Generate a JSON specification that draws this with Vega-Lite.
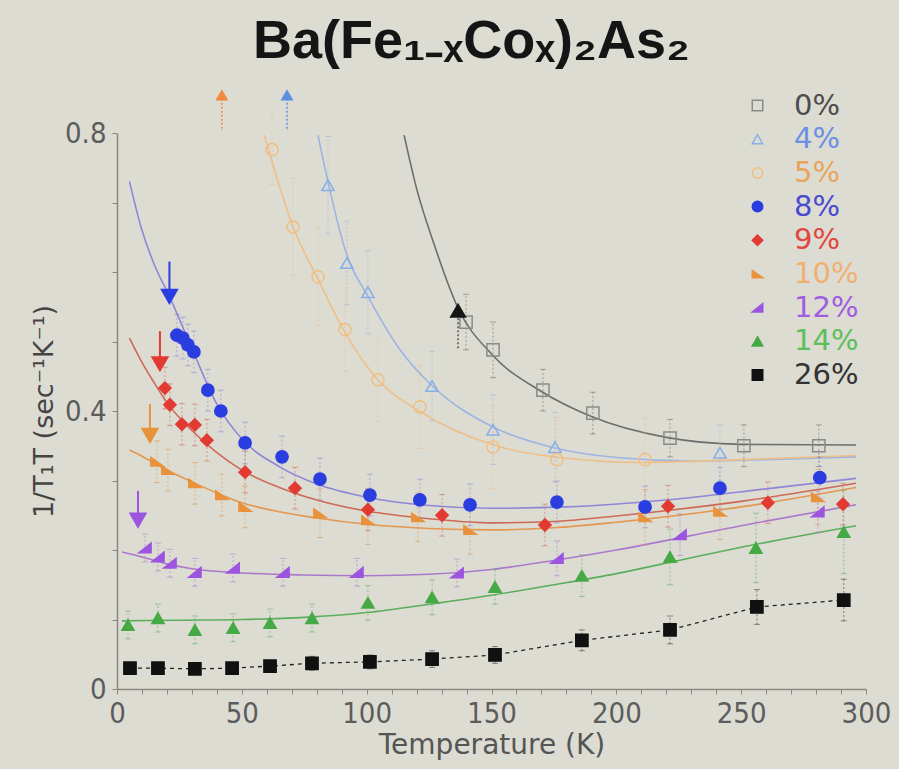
{
  "$schema": "https://vega.github.io/schema/vega-lite/v6.json",
  "width": 749,
  "height": 556,
  "autosize": {"type": "none"},
  "padding": {"left": 117, "top": 133, "right": 33, "bottom": 80},
  "background": "#dddcd2",
  "config": {"view": {"stroke": null}, "font": "DejaVu Sans"},
  "title": {
    "text": "Ba(Fe₁₋ₓCoₓ)₂As₂",
    "font": "Liberation Sans",
    "fontSize": 54,
    "fontWeight": "bold",
    "color": "#151515",
    "anchor": "middle",
    "frame": "group",
    "baseline": "alphabetic",
    "offset": -23,
    "dx": -20
  },
  "datasets": {
    "pts": [
      {"s": "0%", "t": 139.8, "v": 0.528, "e": 0.04},
      {"s": "0%", "t": 150.6, "v": 0.488, "e": 0.04},
      {"s": "0%", "t": 170.6, "v": 0.43, "e": 0.03},
      {"s": "0%", "t": 190.6, "v": 0.397, "e": 0.03},
      {"s": "0%", "t": 221.5, "v": 0.361, "e": 0.027},
      {"s": "0%", "t": 251.1, "v": 0.35, "e": 0.03},
      {"s": "0%", "t": 281.1, "v": 0.35, "e": 0.03},
      {"s": "4%", "t": 84.5, "v": 0.725, "e": 0.07},
      {"s": "4%", "t": 92.1, "v": 0.613, "e": 0.06},
      {"s": "4%", "t": 100.5, "v": 0.571, "e": 0.06},
      {"s": "4%", "t": 126.2, "v": 0.436, "e": 0.05},
      {"s": "4%", "t": 150.6, "v": 0.373, "e": 0.05},
      {"s": "4%", "t": 175.4, "v": 0.348, "e": 0.05},
      {"s": "4%", "t": 241.5, "v": 0.34, "e": 0.04},
      {"s": "5%", "t": 62.1, "v": 0.776, "e": 0.05},
      {"s": "5%", "t": 70.5, "v": 0.665, "e": 0.07},
      {"s": "5%", "t": 80.5, "v": 0.593, "e": 0.07},
      {"s": "5%", "t": 91.3, "v": 0.517, "e": 0.06},
      {"s": "5%", "t": 104.5, "v": 0.445, "e": 0.06},
      {"s": "5%", "t": 121.3, "v": 0.406, "e": 0.06},
      {"s": "5%", "t": 150.6, "v": 0.348, "e": 0.06},
      {"s": "5%", "t": 176.2, "v": 0.33, "e": 0.06},
      {"s": "5%", "t": 211.5, "v": 0.33, "e": 0.06},
      {"s": "8%", "t": 24.0, "v": 0.509, "e": 0.03},
      {"s": "8%", "t": 26.4, "v": 0.505, "e": 0.03},
      {"s": "8%", "t": 28.4, "v": 0.495, "e": 0.03},
      {"s": "8%", "t": 30.8, "v": 0.485, "e": 0.03},
      {"s": "8%", "t": 36.4, "v": 0.43, "e": 0.03},
      {"s": "8%", "t": 41.6, "v": 0.4, "e": 0.03},
      {"s": "8%", "t": 51.3, "v": 0.354, "e": 0.03},
      {"s": "8%", "t": 66.1, "v": 0.334, "e": 0.03},
      {"s": "8%", "t": 81.3, "v": 0.302, "e": 0.03},
      {"s": "8%", "t": 101.3, "v": 0.279, "e": 0.03},
      {"s": "8%", "t": 121.3, "v": 0.272, "e": 0.03},
      {"s": "8%", "t": 141.4, "v": 0.265, "e": 0.03},
      {"s": "8%", "t": 176.2, "v": 0.269, "e": 0.03},
      {"s": "8%", "t": 211.5, "v": 0.262, "e": 0.03},
      {"s": "8%", "t": 241.5, "v": 0.289, "e": 0.03},
      {"s": "8%", "t": 281.5, "v": 0.304, "e": 0.03},
      {"s": "9%", "t": 19.2, "v": 0.433, "e": 0.03},
      {"s": "9%", "t": 21.2, "v": 0.409, "e": 0.03},
      {"s": "9%", "t": 26.0, "v": 0.381, "e": 0.03},
      {"s": "9%", "t": 31.2, "v": 0.38, "e": 0.03},
      {"s": "9%", "t": 36.0, "v": 0.358, "e": 0.03},
      {"s": "9%", "t": 51.3, "v": 0.312, "e": 0.03},
      {"s": "9%", "t": 71.3, "v": 0.289, "e": 0.03},
      {"s": "9%", "t": 100.5, "v": 0.258, "e": 0.03},
      {"s": "9%", "t": 130.2, "v": 0.25, "e": 0.03},
      {"s": "9%", "t": 171.4, "v": 0.236, "e": 0.03},
      {"s": "9%", "t": 220.7, "v": 0.263, "e": 0.03},
      {"s": "9%", "t": 260.7, "v": 0.268, "e": 0.03},
      {"s": "9%", "t": 290.8, "v": 0.266, "e": 0.03},
      {"s": "10%", "t": 16.0, "v": 0.327, "e": 0.03},
      {"s": "10%", "t": 20.4, "v": 0.315, "e": 0.03},
      {"s": "10%", "t": 31.2, "v": 0.296, "e": 0.03},
      {"s": "10%", "t": 42.0, "v": 0.279, "e": 0.03},
      {"s": "10%", "t": 51.3, "v": 0.262, "e": 0.03},
      {"s": "10%", "t": 81.3, "v": 0.253, "e": 0.035},
      {"s": "10%", "t": 100.5, "v": 0.243, "e": 0.035},
      {"s": "10%", "t": 120.5, "v": 0.247, "e": 0.035},
      {"s": "10%", "t": 141.4, "v": 0.229, "e": 0.035},
      {"s": "10%", "t": 211.5, "v": 0.247, "e": 0.04},
      {"s": "10%", "t": 241.5, "v": 0.255, "e": 0.04},
      {"s": "10%", "t": 280.7, "v": 0.276, "e": 0.04},
      {"s": "12%", "t": 11.2, "v": 0.203, "e": 0.02},
      {"s": "12%", "t": 16.4, "v": 0.19, "e": 0.02},
      {"s": "12%", "t": 21.2, "v": 0.181, "e": 0.02},
      {"s": "12%", "t": 31.2, "v": 0.168, "e": 0.02},
      {"s": "12%", "t": 46.5, "v": 0.174, "e": 0.02},
      {"s": "12%", "t": 66.5, "v": 0.168, "e": 0.02},
      {"s": "12%", "t": 96.1, "v": 0.168, "e": 0.02},
      {"s": "12%", "t": 136.2, "v": 0.167, "e": 0.02},
      {"s": "12%", "t": 176.2, "v": 0.188, "e": 0.025},
      {"s": "12%", "t": 225.5, "v": 0.222, "e": 0.03},
      {"s": "12%", "t": 280.7, "v": 0.255, "e": 0.03},
      {"s": "14%", "t": 4.4, "v": 0.092, "e": 0.02},
      {"s": "14%", "t": 16.4, "v": 0.102, "e": 0.02},
      {"s": "14%", "t": 31.2, "v": 0.085, "e": 0.02},
      {"s": "14%", "t": 46.5, "v": 0.088, "e": 0.02},
      {"s": "14%", "t": 61.3, "v": 0.095, "e": 0.02},
      {"s": "14%", "t": 78.1, "v": 0.102, "e": 0.02},
      {"s": "14%", "t": 100.5, "v": 0.124, "e": 0.025},
      {"s": "14%", "t": 126.2, "v": 0.132, "e": 0.025},
      {"s": "14%", "t": 151.4, "v": 0.147, "e": 0.025},
      {"s": "14%", "t": 186.2, "v": 0.163, "e": 0.03},
      {"s": "14%", "t": 221.5, "v": 0.19, "e": 0.04},
      {"s": "14%", "t": 255.9, "v": 0.203, "e": 0.05},
      {"s": "14%", "t": 291.1, "v": 0.226, "e": 0.06},
      {"s": "26%", "t": 5.2, "v": 0.03, "e": 0.008},
      {"s": "26%", "t": 16.4, "v": 0.03, "e": 0.008},
      {"s": "26%", "t": 31.2, "v": 0.029, "e": 0.008},
      {"s": "26%", "t": 46.1, "v": 0.03, "e": 0.008},
      {"s": "26%", "t": 61.3, "v": 0.033, "e": 0.008},
      {"s": "26%", "t": 78.1, "v": 0.037, "e": 0.01},
      {"s": "26%", "t": 101.3, "v": 0.039, "e": 0.01},
      {"s": "26%", "t": 126.2, "v": 0.043, "e": 0.012},
      {"s": "26%", "t": 151.4, "v": 0.049, "e": 0.012},
      {"s": "26%", "t": 186.2, "v": 0.07, "e": 0.015},
      {"s": "26%", "t": 221.5, "v": 0.085, "e": 0.02},
      {"s": "26%", "t": 256.3, "v": 0.118, "e": 0.025},
      {"s": "26%", "t": 291.1, "v": 0.128, "e": 0.03}
    ],
    "fit": [
      {"s": "0%", "t": 115, "v": 0.797},
      {"s": "0%", "t": 120, "v": 0.72},
      {"s": "0%", "t": 127, "v": 0.64},
      {"s": "0%", "t": 136.6, "v": 0.548},
      {"s": "0%", "t": 150, "v": 0.482},
      {"s": "0%", "t": 170, "v": 0.428},
      {"s": "0%", "t": 190, "v": 0.392},
      {"s": "0%", "t": 220, "v": 0.362},
      {"s": "0%", "t": 250, "v": 0.352},
      {"s": "0%", "t": 296, "v": 0.351},
      {"s": "4%", "t": 80.5, "v": 0.797},
      {"s": "4%", "t": 84.5, "v": 0.73},
      {"s": "4%", "t": 92, "v": 0.625},
      {"s": "4%", "t": 100.5, "v": 0.565},
      {"s": "4%", "t": 113, "v": 0.49},
      {"s": "4%", "t": 126, "v": 0.437},
      {"s": "4%", "t": 150, "v": 0.378},
      {"s": "4%", "t": 175, "v": 0.347},
      {"s": "4%", "t": 200, "v": 0.333},
      {"s": "4%", "t": 230, "v": 0.328},
      {"s": "4%", "t": 260, "v": 0.33},
      {"s": "4%", "t": 296, "v": 0.334},
      {"s": "5%", "t": 59, "v": 0.797},
      {"s": "5%", "t": 62, "v": 0.76},
      {"s": "5%", "t": 70.5, "v": 0.665},
      {"s": "5%", "t": 80.5, "v": 0.59},
      {"s": "5%", "t": 91, "v": 0.515},
      {"s": "5%", "t": 104.5, "v": 0.445},
      {"s": "5%", "t": 121, "v": 0.4},
      {"s": "5%", "t": 150, "v": 0.352},
      {"s": "5%", "t": 180, "v": 0.332},
      {"s": "5%", "t": 210, "v": 0.326},
      {"s": "5%", "t": 250, "v": 0.33},
      {"s": "5%", "t": 296, "v": 0.336},
      {"s": "8%", "t": 5, "v": 0.73},
      {"s": "8%", "t": 10, "v": 0.66},
      {"s": "8%", "t": 15, "v": 0.61},
      {"s": "8%", "t": 21, "v": 0.565},
      {"s": "8%", "t": 30, "v": 0.49},
      {"s": "8%", "t": 40, "v": 0.41},
      {"s": "8%", "t": 50, "v": 0.36},
      {"s": "8%", "t": 65, "v": 0.32},
      {"s": "8%", "t": 80, "v": 0.295},
      {"s": "8%", "t": 100, "v": 0.276},
      {"s": "8%", "t": 125, "v": 0.264},
      {"s": "8%", "t": 150, "v": 0.26},
      {"s": "8%", "t": 180, "v": 0.262},
      {"s": "8%", "t": 220, "v": 0.272},
      {"s": "8%", "t": 260, "v": 0.288},
      {"s": "8%", "t": 296, "v": 0.303},
      {"s": "9%", "t": 5, "v": 0.505},
      {"s": "9%", "t": 10, "v": 0.47},
      {"s": "9%", "t": 15, "v": 0.44},
      {"s": "9%", "t": 20, "v": 0.412},
      {"s": "9%", "t": 30, "v": 0.372},
      {"s": "9%", "t": 40, "v": 0.34},
      {"s": "9%", "t": 50, "v": 0.315},
      {"s": "9%", "t": 65, "v": 0.29},
      {"s": "9%", "t": 80, "v": 0.272},
      {"s": "9%", "t": 100, "v": 0.256},
      {"s": "9%", "t": 125, "v": 0.245},
      {"s": "9%", "t": 150, "v": 0.239},
      {"s": "9%", "t": 175, "v": 0.241},
      {"s": "9%", "t": 200, "v": 0.249},
      {"s": "9%", "t": 250, "v": 0.27},
      {"s": "9%", "t": 296, "v": 0.296},
      {"s": "10%", "t": 5, "v": 0.344},
      {"s": "10%", "t": 10, "v": 0.335},
      {"s": "10%", "t": 15, "v": 0.325},
      {"s": "10%", "t": 20, "v": 0.315},
      {"s": "10%", "t": 30, "v": 0.298},
      {"s": "10%", "t": 40, "v": 0.282},
      {"s": "10%", "t": 50, "v": 0.268},
      {"s": "10%", "t": 65, "v": 0.255},
      {"s": "10%", "t": 80, "v": 0.246},
      {"s": "10%", "t": 100, "v": 0.237},
      {"s": "10%", "t": 125, "v": 0.231},
      {"s": "10%", "t": 150, "v": 0.229},
      {"s": "10%", "t": 175, "v": 0.232},
      {"s": "10%", "t": 200, "v": 0.24},
      {"s": "10%", "t": 250, "v": 0.262},
      {"s": "10%", "t": 296, "v": 0.29},
      {"s": "12%", "t": 2, "v": 0.197},
      {"s": "12%", "t": 10, "v": 0.19},
      {"s": "12%", "t": 20, "v": 0.18},
      {"s": "12%", "t": 30, "v": 0.173},
      {"s": "12%", "t": 50, "v": 0.167},
      {"s": "12%", "t": 75, "v": 0.164},
      {"s": "12%", "t": 100, "v": 0.163},
      {"s": "12%", "t": 125, "v": 0.165},
      {"s": "12%", "t": 150, "v": 0.172},
      {"s": "12%", "t": 175, "v": 0.185},
      {"s": "12%", "t": 200, "v": 0.2},
      {"s": "12%", "t": 250, "v": 0.235},
      {"s": "12%", "t": 296, "v": 0.265},
      {"s": "14%", "t": 2, "v": 0.098},
      {"s": "14%", "t": 25, "v": 0.099},
      {"s": "14%", "t": 50, "v": 0.1},
      {"s": "14%", "t": 75, "v": 0.103},
      {"s": "14%", "t": 100, "v": 0.11},
      {"s": "14%", "t": 125, "v": 0.122},
      {"s": "14%", "t": 150, "v": 0.135},
      {"s": "14%", "t": 175, "v": 0.15},
      {"s": "14%", "t": 200, "v": 0.166},
      {"s": "14%", "t": 225, "v": 0.185},
      {"s": "14%", "t": 250, "v": 0.204},
      {"s": "14%", "t": 296, "v": 0.235}
    ],
    "tc": [
      {"s": "8%", "t": 21.0, "v": 0.565, "v2": 0.615},
      {"s": "9%", "t": 17.2, "v": 0.468, "v2": 0.515},
      {"s": "10%", "t": 13.2, "v": 0.365, "v2": 0.41},
      {"s": "12%", "t": 8.4, "v": 0.243, "v2": 0.285}
    ],
    "up": [
      {"s": "5%", "t": 42.0, "v": 0.855, "v2": 0.803},
      {"s": "4%", "t": 68.1, "v": 0.855, "v2": 0.803}
    ],
    "sdw": [
      {"t": 136.6, "v": 0.545, "v2": 0.49}
    ],
    "one": [{}]
  },
  "encoding": {
    "x": {
      "field": "t", "type": "quantitative",
      "scale": {"domain": [0, 300], "nice": false, "zero": false},
      "axis": {"title": "Temperature (K)", "values": [0,10,20,30,40,50,60,70,80,90,100,110,120,130,140,150,160,170,180,190,200,210,220,230,240,250,260,270,280,290,300], "labelExpr": "datum.value % 50 === 0 ? datum.label : ''", "labelOverlap": false, "labelFlush": false, "grid": false, "domainColor": "#8c8682", "domainWidth": 1.5, "tickColor": "#8c8682", "tickSize": 5, "labelFont": "DejaVu Sans Condensed, DejaVu Sans", "labelFontSize": 29, "labelColor": "#5c5c5c", "labelPadding": 5, "titleFont": "DejaVu Sans", "titleFontSize": 28, "titleFontWeight": "normal", "titleColor": "#555555", "titlePadding": 3}
    },
    "y": {
      "field": "v", "type": "quantitative",
      "scale": {"domain": [0, 0.8], "nice": false, "zero": false},
      "axis": {"title": "1/T₁T (sec⁻¹K⁻¹)", "values": [0, 0.1, 0.2, 0.3, 0.4, 0.5, 0.6, 0.7, 0.8], "labelExpr": "datum.value < 0.001 ? '0' : (abs(datum.value - 0.4) < 0.001 || abs(datum.value - 0.8) < 0.001) ? format(datum.value, '.1f') : ''", "labelOverlap": false, "labelFlush": false, "grid": false, "domainColor": "#8c8682", "domainWidth": 1.5, "tickColor": "#8c8682", "tickSize": 5, "labelFont": "DejaVu Sans Condensed, DejaVu Sans", "labelFontSize": 29, "labelColor": "#5c5c5c", "labelPadding": 6, "titleFont": "DejaVu Sans", "titleFontSize": 27, "titleFontWeight": "normal", "titleColor": "#444444", "titlePadding": 6}
    }
  },
  "layer": [
    {
      "data": {"name": "fit"},
      "mark": {"type": "line", "interpolate": "monotone", "strokeWidth": 1.6},
      "encoding": {
        "color": {
          "field": "s", "type": "nominal", "legend": null,
          "scale": {
            "domain": ["26%", "0%", "4%", "5%", "8%", "9%", "10%", "12%", "14%"],
            "range": ["#333333", "#6e6e6e", "#9db4e2", "#eebf88", "#8f86d8", "#cc6a55", "#e3974f", "#ab78cc", "#5cae5c"]
          }
        },
        "detail": {"field": "s"}
      }
    },
    {
      "data": {"name": "pts"},
      "transform": [{"filter": "datum.s === '26%'"}],
      "mark": {"type": "line", "strokeDash": [4, 4], "strokeWidth": 1.3, "color": "#222222"}
    },
    {
      "data": {"name": "pts"},
      "mark": {"type": "errorbar", "ticks": {"size": 6, "opacity": 0.55}, "rule": {"strokeDash": [2, 2], "opacity": 0.6, "strokeWidth": 1}},
      "encoding": {
        "yError": {"field": "e"},
        "color": {"field": "s", "type": "nominal", "legend": null}
      }
    },
    {
      "data": {"name": "pts"},
      "mark": {"type": "point", "strokeWidth": 1.5, "opacity": 1, "size": 150},
      "encoding": {
        "fill": {
          "field": "s", "type": "nominal",
          "scale": {
            "domain": ["0%", "4%", "5%", "8%", "9%", "10%", "12%", "14%", "26%"],
            "range": ["transparent", "transparent", "transparent", "#2a3de0", "#e23a32", "#e8923c", "#9d55e0", "#45aa45", "#111111"]
          },
          "legend": {
            "title": null,
            "orient": "none",
            "legendX": 626,
            "legendY": -42,
            "labelFont": "DejaVu Sans",
            "labelFontSize": 29,
            "labelOffset": 22,
            "rowPadding": 3.7,
            "symbolSize": 110,
            "symbolStrokeWidth": 1.5,
            "symbolOpacity": 1,
            "encode": {
              "labels": {
                "update": {
                  "fill": {"signal": "datum.value === '0%' ? '#4d4d4d' : datum.value === '4%' ? '#6c8fe4' : datum.value === '5%' ? '#eaa35a' : datum.value === '8%' ? '#4a4ad0' : datum.value === '9%' ? '#e0483e' : datum.value === '10%' ? '#f0b070' : datum.value === '12%' ? '#a05ee0' : datum.value === '14%' ? '#5cbf5c' : '#333333'"}
                }
              }
            }
          }
        },
        "stroke": {
          "field": "s", "type": "nominal",
          "scale": {
            "domain": ["0%", "4%", "5%", "8%", "9%", "10%", "12%", "14%", "26%"],
            "range": ["#8a8a8a", "#86aee8", "#f0bf80", "#2a3de0", "#e23a32", "#e8923c", "#9d55e0", "#45aa45", "#111111"]
          }
        },
        "shape": {
          "field": "s", "type": "nominal",
          "scale": {
            "domain": ["0%", "4%", "5%", "8%", "9%", "10%", "12%", "14%", "26%"],
            "range": ["square", "triangle-up", "circle", "circle", "diamond", "M-1,-0.7L1,0.7L-1,0.7Z", "M1,-0.8L1,0.8L-1,0.8Z", "triangle-up", "square"]
          }
        }
      }
    },
    {
      "data": {"name": "tc"},
      "mark": {"type": "rule", "strokeWidth": 2, "opacity": 1},
      "encoding": {
        "y2": {"field": "v2"},
        "stroke": {"field": "s", "type": "nominal"}
      }
    },
    {
      "data": {"name": "tc"},
      "mark": {"type": "point", "shape": "triangle-down", "size": 230, "opacity": 1},
      "encoding": {
        "fill": {"field": "s", "type": "nominal"},
        "stroke": {"field": "s", "type": "nominal"}
      }
    },
    {
      "data": {"name": "up"},
      "transform": [{"filter": "datum.s === '5%'"}],
      "layer": [
        {"mark": {"type": "rule", "strokeDash": [2, 2], "strokeWidth": 1.5, "color": "#f08a40"}, "encoding": {"y2": {"field": "v2"}}},
        {"mark": {"type": "point", "shape": "triangle-up", "filled": true, "size": 170, "color": "#f08a40", "opacity": 1}}
      ]
    },
    {
      "data": {"name": "up"},
      "transform": [{"filter": "datum.s === '4%'"}],
      "layer": [
        {"mark": {"type": "rule", "strokeDash": [2, 2], "strokeWidth": 1.5, "color": "#5a90e0"}, "encoding": {"y2": {"field": "v2"}}},
        {"mark": {"type": "point", "shape": "triangle-up", "filled": true, "size": 170, "color": "#5a90e0", "opacity": 1}}
      ]
    },
    {
      "data": {"name": "sdw"},
      "layer": [
        {"mark": {"type": "rule", "strokeDash": [2, 2], "strokeWidth": 1.2, "color": "#333333"}, "encoding": {"y2": {"field": "v2"}}},
        {"mark": {"type": "point", "shape": "triangle-up", "filled": true, "size": 300, "color": "#151515", "opacity": 1}}
      ]
    },
    {
      "data": {"name": "one"},
      "mark": {"type": "text", "text": "T", "font": "DejaVu Sans", "fontSize": 30, "align": "left", "baseline": "alphabetic", "color": "#333333"},
      "encoding": {
        "x": {"datum": 132.6, "type": "quantitative", "axis": {"title": "Temperature (K)", "values": [0,10,20,30,40,50,60,70,80,90,100,110,120,130,140,150,160,170,180,190,200,210,220,230,240,250,260,270,280,290,300], "labelExpr": "datum.value % 50 === 0 ? datum.label : ''", "labelOverlap": false, "labelFlush": false, "grid": false, "domainColor": "#8c8682", "domainWidth": 1.5, "tickColor": "#8c8682", "tickSize": 5, "labelFont": "DejaVu Sans Condensed, DejaVu Sans", "labelFontSize": 29, "labelColor": "#5c5c5c", "labelPadding": 5, "titleFont": "DejaVu Sans", "titleFontSize": 28, "titleFontWeight": "normal", "titleColor": "#555555", "titlePadding": 3}},
        "y": {"datum": 0.586, "type": "quantitative", "axis": {"title": "1/T₁T (sec⁻¹K⁻¹)", "values": [0, 0.1, 0.2, 0.3, 0.4, 0.5, 0.6, 0.7, 0.8], "labelExpr": "datum.value < 0.001 ? '0' : (abs(datum.value - 0.4) < 0.001 || abs(datum.value - 0.8) < 0.001) ? format(datum.value, '.1f') : ''", "labelOverlap": false, "labelFlush": false, "grid": false, "domainColor": "#8c8682", "domainWidth": 1.5, "tickColor": "#8c8682", "tickSize": 5, "labelFont": "DejaVu Sans Condensed, DejaVu Sans", "labelFontSize": 29, "labelColor": "#5c5c5c", "labelPadding": 6, "titleFont": "DejaVu Sans", "titleFontSize": 27, "titleFontWeight": "normal", "titleColor": "#444444", "titlePadding": 6}}
      }
    },
    {
      "data": {"name": "one"},
      "mark": {"type": "text", "text": "SDW", "font": "DejaVu Sans", "fontSize": 15, "align": "left", "baseline": "alphabetic", "color": "#333333"},
      "encoding": {
        "x": {"datum": 140.2, "type": "quantitative", "axis": {"title": "Temperature (K)", "values": [0,10,20,30,40,50,60,70,80,90,100,110,120,130,140,150,160,170,180,190,200,210,220,230,240,250,260,270,280,290,300], "labelExpr": "datum.value % 50 === 0 ? datum.label : ''", "labelOverlap": false, "labelFlush": false, "grid": false, "domainColor": "#8c8682", "domainWidth": 1.5, "tickColor": "#8c8682", "tickSize": 5, "labelFont": "DejaVu Sans Condensed, DejaVu Sans", "labelFontSize": 29, "labelColor": "#5c5c5c", "labelPadding": 5, "titleFont": "DejaVu Sans", "titleFontSize": 28, "titleFontWeight": "normal", "titleColor": "#555555", "titlePadding": 3}},
        "y": {"datum": 0.567, "type": "quantitative", "axis": {"title": "1/T₁T (sec⁻¹K⁻¹)", "values": [0, 0.1, 0.2, 0.3, 0.4, 0.5, 0.6, 0.7, 0.8], "labelExpr": "datum.value < 0.001 ? '0' : (abs(datum.value - 0.4) < 0.001 || abs(datum.value - 0.8) < 0.001) ? format(datum.value, '.1f') : ''", "labelOverlap": false, "labelFlush": false, "grid": false, "domainColor": "#8c8682", "domainWidth": 1.5, "tickColor": "#8c8682", "tickSize": 5, "labelFont": "DejaVu Sans Condensed, DejaVu Sans", "labelFontSize": 29, "labelColor": "#5c5c5c", "labelPadding": 6, "titleFont": "DejaVu Sans", "titleFontSize": 27, "titleFontWeight": "normal", "titleColor": "#444444", "titlePadding": 6}}
      }
    },
    {
      "data": {"name": "one"},
      "mark": {"type": "text", "text": "=135K", "font": "DejaVu Sans", "fontSize": 27, "align": "left", "baseline": "alphabetic", "color": "#333333"},
      "encoding": {
        "x": {"datum": 156.5, "type": "quantitative", "axis": {"title": "Temperature (K)", "values": [0,10,20,30,40,50,60,70,80,90,100,110,120,130,140,150,160,170,180,190,200,210,220,230,240,250,260,270,280,290,300], "labelExpr": "datum.value % 50 === 0 ? datum.label : ''", "labelOverlap": false, "labelFlush": false, "grid": false, "domainColor": "#8c8682", "domainWidth": 1.5, "tickColor": "#8c8682", "tickSize": 5, "labelFont": "DejaVu Sans Condensed, DejaVu Sans", "labelFontSize": 29, "labelColor": "#5c5c5c", "labelPadding": 5, "titleFont": "DejaVu Sans", "titleFontSize": 28, "titleFontWeight": "normal", "titleColor": "#555555", "titlePadding": 3}},
        "y": {"datum": 0.588, "type": "quantitative", "axis": {"title": "1/T₁T (sec⁻¹K⁻¹)", "values": [0, 0.1, 0.2, 0.3, 0.4, 0.5, 0.6, 0.7, 0.8], "labelExpr": "datum.value < 0.001 ? '0' : (abs(datum.value - 0.4) < 0.001 || abs(datum.value - 0.8) < 0.001) ? format(datum.value, '.1f') : ''", "labelOverlap": false, "labelFlush": false, "grid": false, "domainColor": "#8c8682", "domainWidth": 1.5, "tickColor": "#8c8682", "tickSize": 5, "labelFont": "DejaVu Sans Condensed, DejaVu Sans", "labelFontSize": 29, "labelColor": "#5c5c5c", "labelPadding": 6, "titleFont": "DejaVu Sans", "titleFontSize": 27, "titleFontWeight": "normal", "titleColor": "#444444", "titlePadding": 6}}
      }
    }
  ]
}
